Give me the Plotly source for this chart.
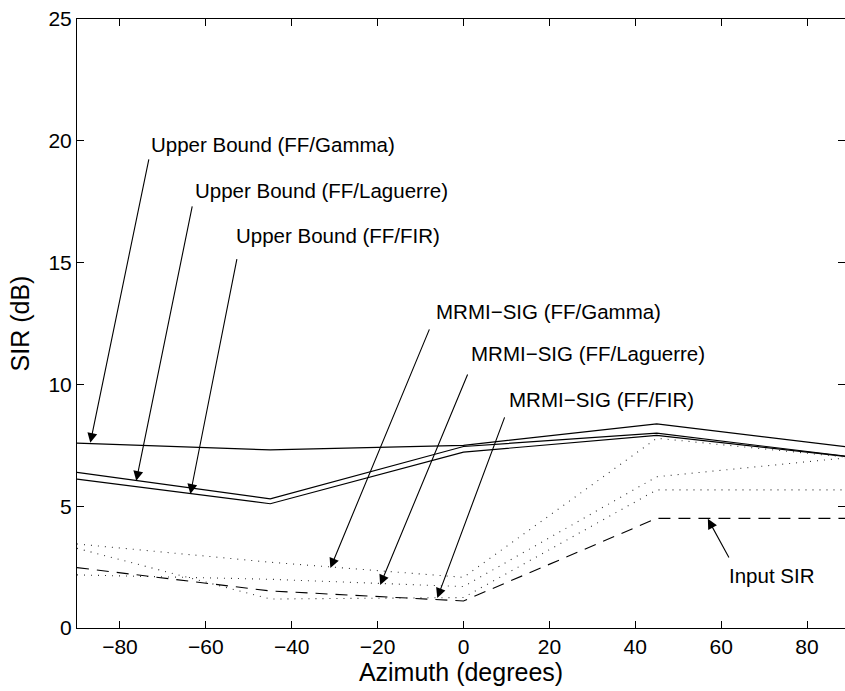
import plotly.graph_objects as go

# ---- data ----
azimuth = [-90, -45, 0, 45, 90]
ub_gamma = [7.59, 7.31, 7.50, 8.38, 7.42]
ub_laguerre = [6.39, 5.30, 7.45, 8.00, 7.03]
ub_fir = [6.11, 5.10, 7.22, 7.91, 7.02]
mrmi_gamma = [3.45, 2.70, 2.08, 7.79, 7.00]
mrmi_laguerre = [2.18, 2.00, 1.70, 6.21, 7.00]
mrmi_fir = [3.27, 1.19, 1.25, 5.67, 5.67]
input_sir = [2.48, 1.52, 1.11, 4.50, 4.50]

x_ticks = [-80, -60, -40, -20, 0, 20, 40, 60, 80]
y_ticks = [0, 5, 10, 15, 20, 25]

FONT = "Liberation Sans, Arial, Helvetica, sans-serif"

fig = go.Figure()

solid = dict(color="black", width=1.2)
dotted = dict(color="#333333", width=1.1, dash="1px,6px")
dashed = dict(color="black", width=1.1, dash="12px,8px")

for ys, ln in [(ub_gamma, solid), (ub_laguerre, solid), (ub_fir, solid),
               (mrmi_gamma, dotted), (mrmi_laguerre, dotted), (mrmi_fir, dotted),
               (input_sir, dashed)]:
    fig.add_trace(go.Scatter(x=azimuth, y=ys, mode="lines", line=ln,
                             showlegend=False, hoverinfo="skip"))

# label text, arrow tail (text corner) and arrow tip, in data units
labels = [
    ("Upper Bound (FF/Gamma)",    (-73.2, 19.83), (-73.2, 19.30), (-86.9, 7.60)),
    ("Upper Bound (FF/Laguerre)", (-63.1, 17.95), (-63.1, 17.37), (-76.2, 6.04)),
    ("Upper Bound (FF/FIR)",      (-53.4, 16.10), (-52.7, 15.20), (-63.6, 5.50)),
    ("MRMI\u2212SIG (FF/Gamma)",    (-6.8, 13.00), (-7.8, 12.32), (-31.0, 2.46)),
    ("MRMI\u2212SIG (FF/Laguerre)", (1.3, 11.25), (1.1, 10.47), (-19.4, 1.77)),
    ("MRMI\u2212SIG (FF/FIR)",      (10.2, 9.40), (9.7, 8.71), (-6.1, 1.23)),
    ("Input SIR",                 (61.3, 2.14), (62.0, 2.83), (56.9, 4.48)),
]

annotations = []
for text, (tx, ty), (ax, ay), (hx, hy) in labels:
    annotations.append(dict(x=hx, y=hy, ax=ax, ay=ay, xref="x", yref="y",
                            axref="x", ayref="y", text="", showarrow=True,
                            arrowhead=2, arrowsize=1.8, arrowwidth=1.1,
                            arrowcolor="black", standoff=0, startstandoff=0))
    annotations.append(dict(x=tx, y=ty, xref="x", yref="y", text=text,
                            showarrow=False, xanchor="left", yanchor="middle",
                            font=dict(family=FONT, size=20.5, color="black")))

fig.update_layout(
    width=845, height=691,
    margin=dict(l=77, r=0, t=19, b=63),
    paper_bgcolor="white", plot_bgcolor="white",
    font=dict(family=FONT, size=21, color="black"),
    annotations=annotations,
    xaxis=dict(range=[-90, 88.84], tickvals=x_ticks, ticks="inside", ticklen=7,
               tickcolor="black", showline=True, linecolor="black", linewidth=1,
               mirror="ticks", showgrid=False, zeroline=False,
               title=dict(text="Azimuth (degrees)", standoff=2),
               tickfont=dict(size=21)),
    yaxis=dict(range=[0, 25], tickvals=y_ticks, ticks="inside", ticklen=7,
               tickcolor="black", showline=True, linecolor="black", linewidth=1,
               mirror="ticks", showgrid=False, zeroline=False,
               title=dict(text="SIR (dB)", standoff=11),
               tickfont=dict(size=21)),
)

fig.write_html("out.html")
